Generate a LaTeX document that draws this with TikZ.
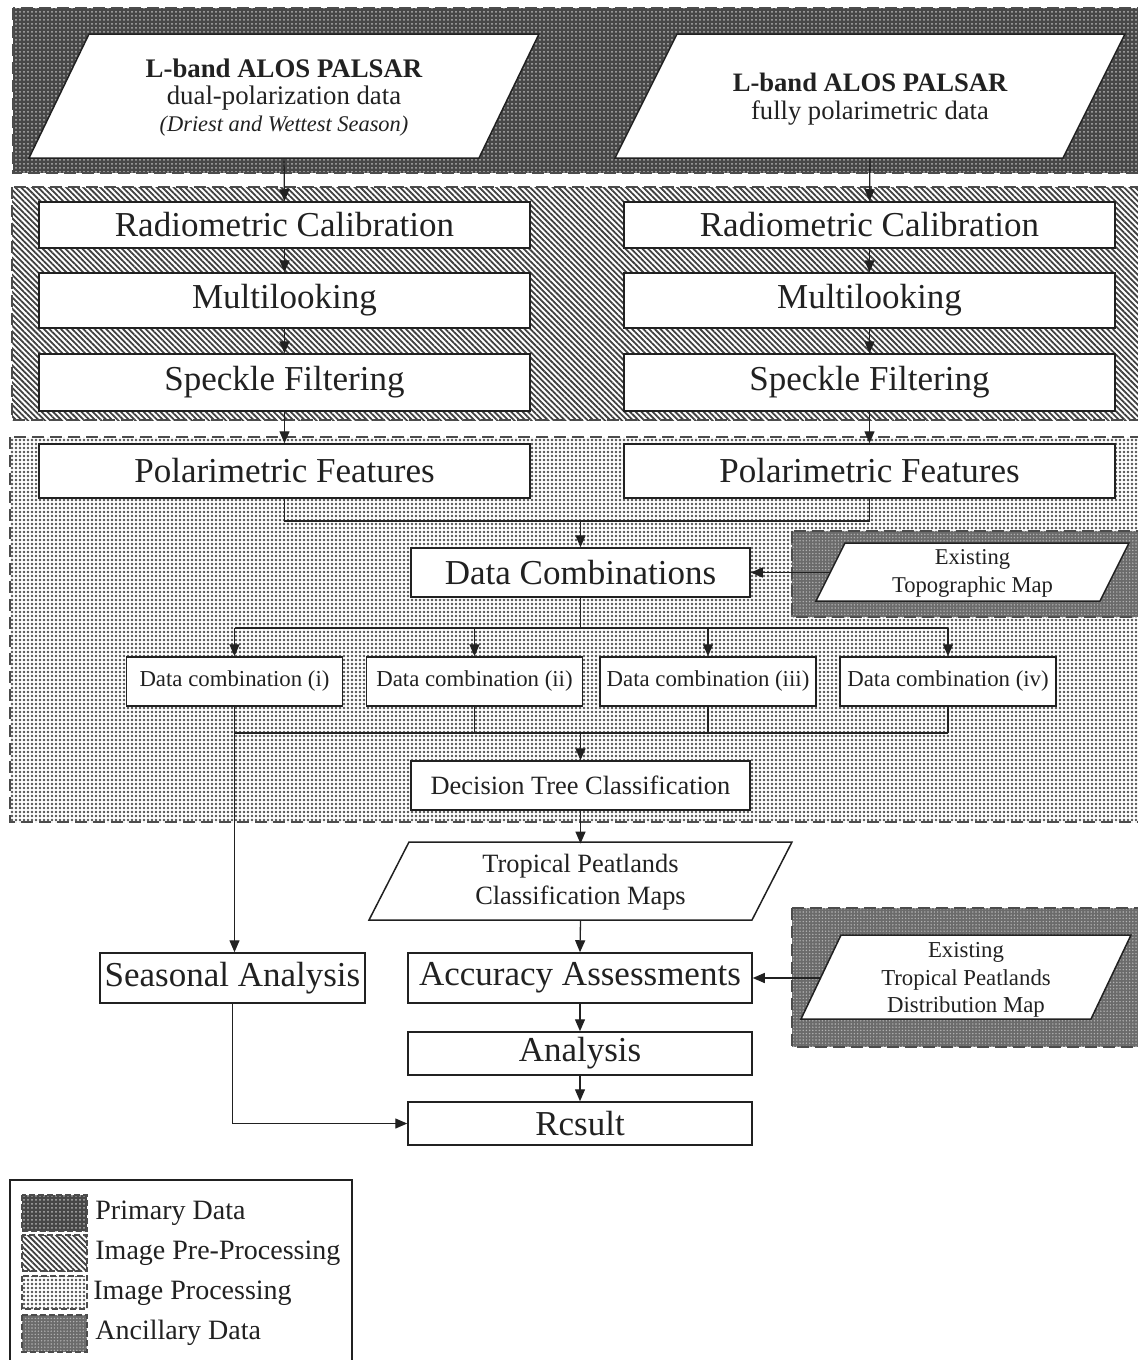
\documentclass[tikz,border=0pt]{standalone}
\usepackage{fontspec}
\setmainfont{Liberation Serif}
\usetikzlibrary{arrows.meta,patterns.meta}
\definecolor{ink}{gray}{0.13}
\begin{document}
\begin{tikzpicture}[x=0.5pt,y=-0.5pt,
  box/.style={draw=ink, line width=0.75pt, fill=white, inner sep=0pt, text=ink},
  txtnode/.style={inner sep=0pt, text=ink, align=center},
  bigtxt/.style={font=\fontsize{17.5}{20}\selectfont},
  midtxt/.style={font=\fontsize{13.2}{16}\selectfont},
  smalltxt/.style={font=\fontsize{11.4}{14}\selectfont},
  legtxt/.style={font=\fontsize{14}{16}\selectfont, text=ink, inner sep=0pt, anchor=west},
  arr/.style={draw=ink, line width=0.65pt, -{Triangle[length=6pt,width=5pt]}},
  ln/.style={draw=ink, line width=0.65pt},
  bandline/.style={draw=black!70, line width=1pt, dash pattern=on 6pt off 3pt},
  legline/.style={draw=black!70, line width=0.8pt, dash pattern=on 3pt off 1.5pt},
  primfill/.style={fill=black!72},
  primpat/.style={pattern={Dots[distance=2pt,radius=0.5pt]}, pattern color=black!30},
  prepat/.style={pattern={Lines[angle=-45,distance=2pt,line width=0.9pt]}, pattern color=black!75},
  procpat/.style={pattern={Dots[distance=2pt,radius=0.68pt]}, pattern color=black!68},
  ancfill/.style={fill=black!58},
  ancpat/.style={pattern={Dots[distance=1.6pt,radius=0.4pt]}, pattern color=black!30},
  para/.style={draw=ink, line width=0.75pt, fill=white},
  wide/.style={minimum width=245.5pt},
  mid/.style={minimum width=169.5pt},
  dcw/.style={minimum width=108pt, minimum height=24.5pt},
]
\useasboundingbox (0,0) rectangle (1137,1360);
\fill[white] (0,0) rectangle (1137,1360);

% ---- bands ----
\fill[primfill] (13,8) rectangle (1145,173);
\fill[primpat] (13,8) rectangle (1145,173);
\draw[bandline] (13,8) rectangle (1145,173);

\fill[white] (12,187) rectangle (1145,420);
\fill[prepat] (12,187) rectangle (1145,420);
\draw[bandline] (12,187) rectangle (1145,420);

\fill[white] (10,437) rectangle (1145,822);
\fill[procpat] (10,437) rectangle (1145,822);
\draw[bandline] (10,437) rectangle (1145,822);

\fill[ancfill] (792,531) rectangle (1145,617);
\fill[ancpat] (792,531) rectangle (1145,617);
\draw[bandline] (792,531) rectangle (1145,617);

\fill[ancfill] (792,908) rectangle (1145,1047);
\fill[ancpat] (792,908) rectangle (1145,1047);
\draw[bandline] (792,908) rectangle (1145,1047);

% ---- parallelograms ----
\draw[para] (29,158) -- (89,34) -- (539,34) -- (479,158) -- cycle;
\draw[para] (615,158) -- (677,34) -- (1125,34) -- (1063,158) -- cycle;
\draw[para] (816,601) -- (845,543) -- (1129,543) -- (1100,601) -- cycle;
\draw[para] (369,920) -- (409,842) -- (792,842) -- (752,920) -- cycle;
\draw[para] (801,1019) -- (841,935) -- (1131,935) -- (1091,1019) -- cycle;

\node[txtnode, minimum width=255pt, minimum height=60pt, font=\fontsize{13.4}{13.5}\selectfont] (pd1) at (284,98)
  {{\bfseries L-band ALOS PALSAR}\\dual-polarization data\\{\itshape\fontsize{11.2}{13.5}\selectfont (Driest and Wettest Season)}};
\node[txtnode, minimum width=255pt, minimum height=59pt, font=\fontsize{13.3}{14}\selectfont] (pd2) at (870,99)
  {{\bfseries L-band ALOS PALSAR}\\fully polarimetric data};
\node[txtnode, minimum width=156.5pt, minimum height=29pt, font=\fontsize{11.3}{14}\selectfont] (topo) at (972.5,573)
  {Existing\\Topographic Map};
\node[txtnode, minimum width=211.5pt, minimum height=38pt, font=\fontsize{13.2}{16}\selectfont] (tpm) at (580.5,882)
  {Tropical Peatlands\\Classification Maps};
\node[txtnode, minimum width=165pt, minimum height=42pt, font=\fontsize{11.4}{13.75}\selectfont] (dist) at (966,980)
  {Existing\\Tropical Peatlands\\Distribution Map};

% ---- boxes ----
\node[box, bigtxt, wide, minimum height=23pt] (rc1) at (284.5,225) {Radiometric Calibration};
\node[box, bigtxt, wide, minimum height=23pt] (rc2) at (869.5,225) {Radiometric Calibration};
\node[box, bigtxt, wide, minimum height=27.5pt] (ml1) at (284.5,300.5) {Multilooking};
\node[box, bigtxt, wide, minimum height=27.5pt] (ml2) at (869.5,300.5) {Multilooking};
\node[box, bigtxt, wide, minimum height=28.5pt] (sf1) at (284.5,382.5) {Speckle Filtering};
\node[box, bigtxt, wide, minimum height=28.5pt] (sf2) at (869.5,382.5) {Speckle Filtering};
\node[box, bigtxt, wide, minimum height=27pt] (pf1) at (284.5,471) {Polarimetric Features};
\node[box, bigtxt, wide, minimum height=27pt] (pf2) at (869.5,471) {Polarimetric Features};
\node[box, bigtxt, mid, minimum height=24.5pt] (dc) at (580.5,572.5) {Data Combinations};
\node[box, smalltxt, dcw] (dci) at (234.5,681.5) {Data combination (i)};
\node[box, smalltxt, dcw] (dcii) at (474.5,681.5) {Data combination (ii)};
\node[box, smalltxt, dcw] (dciii) at (708,681.5) {Data combination (iii)};
\node[box, smalltxt, dcw] (dciv) at (948,681.5) {Data combination (iv)};
\node[box, midtxt, mid, minimum height=24.5pt] (dt) at (580.5,785.5) {Decision Tree Classification};
\node[box, bigtxt, minimum width=132.5pt, minimum height=25pt] (sa) at (232.5,978) {Seasonal Analysis};
\node[box, bigtxt, minimum width=172pt, minimum height=25pt] (aa) at (580,978) {Accuracy Assessments};
\node[box, bigtxt, minimum width=172pt, minimum height=21.5pt] (an) at (580,1053.5) {Analysis};
\node[box, bigtxt, minimum width=172pt, minimum height=21.5pt] (rs) at (580,1123.5) {Rcsult};

% ---- connectors ----
\draw[arr] (pd1.south) -- (rc1.north);
\draw[arr] (pd2.south) -- (rc2.north);
\draw[arr] (rc1.south) -- (ml1.north);
\draw[arr] (rc2.south) -- (ml2.north);
\draw[arr] (ml1.south) -- (sf1.north);
\draw[arr] (ml2.south) -- (sf2.north);
\draw[arr] (sf1.south) -- (pf1.north);
\draw[arr] (sf2.south) -- (pf2.north);

\coordinate (j1) at (580.5,521);
\draw[ln] (pf1.south) -- (pf1.south |- j1) -- (pf2.south |- j1) -- (pf2.south);
\draw[arr] (j1) -- (dc.north);

\coordinate (topoL) at (831,572.5);
\draw[arr] (topoL) -- (dc.east);

\coordinate (j3) at (580.5,628);
\draw[ln] (dc.south) -- (j3);
\draw[ln] (dci.north |- j3) -- (dciv.north |- j3);
\draw[arr] (dci.north |- j3) -- (dci.north);
\draw[arr] (dcii.north |- j3) -- (dcii.north);
\draw[arr] (dciii.north |- j3) -- (dciii.north);
\draw[arr] (dciv.north |- j3) -- (dciv.north);

\coordinate (j2) at (580.5,733);
\draw[ln] (dci.south |- j2) -- (dciv.south |- j2);
\draw[ln] (dcii.south) -- (dcii.south |- j2);
\draw[ln] (dciii.south) -- (dciii.south |- j2);
\draw[ln] (dciv.south) -- (dciv.south |- j2);
\draw[arr] (j2) -- (dt.north);
\draw[arr] (dci.south) -- (dci.south |- sa.north);

\draw[arr] (dt.south) -- (tpm.north);
\draw[arr] (tpm.south) -- (aa.north);
\coordinate (distL) at (821,978);
\draw[arr] (distL) -- (aa.east);
\draw[arr] (aa.south) -- (an.north);
\draw[arr] (an.south) -- (rs.north);
\draw[arr] (sa.south) |- (rs.west);

% ---- legend ----
\draw[ink, line width=0.75pt] (10,1365) -- (10,1180) -- (352,1180) -- (352,1365);
\fill[primfill] (22,1195) rectangle (87,1231);
\fill[primpat] (22,1195) rectangle (87,1231);
\draw[legline] (22,1195) rectangle (87,1231);
\fill[white] (22,1235) rectangle (87,1271);
\fill[prepat] (22,1235) rectangle (87,1271);
\draw[legline] (22,1235) rectangle (87,1271);
\fill[white] (22,1276) rectangle (87,1309);
\fill[procpat] (22,1276) rectangle (87,1309);
\draw[legline] (22,1276) rectangle (87,1309);
\fill[ancfill] (22,1315) rectangle (87,1352);
\fill[ancpat] (22,1315) rectangle (87,1352);
\draw[legline] (22,1315) rectangle (87,1352);
\node[legtxt] (lg1) at (95,1213) {Primary Data};
\node[legtxt] (lg2) at (95,1253) {Image Pre-Processing};
\node[legtxt] (lg3) at (93,1293) {Image Processing};
\node[legtxt] (lg4) at (95,1333) {Ancillary Data};
\end{tikzpicture}
\end{document}
